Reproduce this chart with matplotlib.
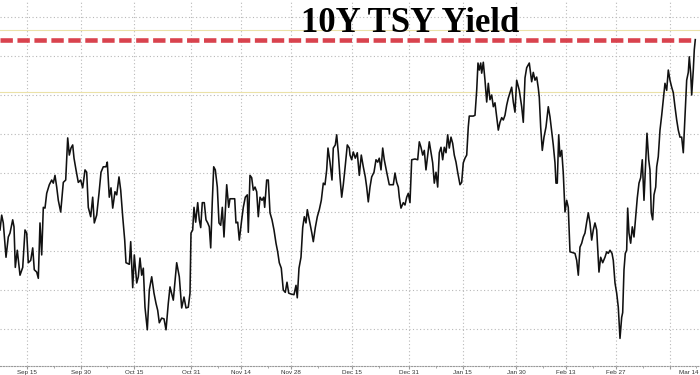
import matplotlib
matplotlib.use('Agg')
import matplotlib.pyplot as plt

# days since Sep 15 and yield (%)
days = [-7.56, -7.09, -6.64, -5.88, -5.24, -4.76, -4.01, -3.64, -3.28, -2.72, -1.96, -1.20, -0.56, -0.08,
        0.36, 1.04, 1.60, 2.04, 2.72, 3.17, 3.64, 4.12, 4.57, 5.04, 5.52, 6.25, 6.92, 7.37, 7.84, 8.32,
        8.77, 9.44, 10.17, 10.84, 11.40, 11.85, 12.32, 12.80, 13.17, 13.73, 14.37, 15.04, 15.60, 16.25,
        16.72, 17.17, 17.84, 18.40, 18.85, 19.52, 20.17, 20.73, 21.37, 22.13, 22.49, 23.05, 23.53, 24.01,
        24.65, 25.13, 25.77, 26.25, 26.81, 27.37, 27.73, 28.66, 29.05, 29.61, 30.06, 30.73, 31.18, 31.65,
        32.13, 32.58, 33.05, 33.70, 34.26, 34.93, 35.57, 36.13, 36.61, 37.06, 37.73, 38.38, 38.94, 39.58,
        40.06, 40.98, 41.93, 42.66, 43.33, 43.98, 44.54, 45.18, 45.66, 45.94, 46.41, 46.78, 47.25, 47.82,
        48.26, 48.66, 49.10, 49.66, 50.14, 50.62, 51.06, 51.46, 51.90, 52.30, 52.75, 53.31, 53.78, 54.26,
        54.71, 55.18, 55.94, 56.50, 56.86, 58.18, 58.54, 59.02, 59.47, 60.14, 60.59, 61.15, 61.71, 61.99,
        62.46, 62.94, 63.39, 63.87, 64.34, 64.79, 65.27, 65.83, 66.30, 66.58, 67.14, 67.59, 68.07, 68.63,
        69.19, 69.75, 70.22, 70.67, 71.23, 71.79, 72.35, 72.83, 73.31, 73.87, 74.79, 75.35, 75.71, 76.19,
        76.75, 77.23, 77.68, 78.15, 78.52, 79.08, 79.75, 80.20, 80.76, 81.32, 81.88, 82.44, 83.00, 83.47,
        83.95, 84.31, 84.87, 85.43, 85.80, 86.36, 86.75, 87.20, 87.68, 88.15, 88.60, 89.08, 89.72, 90.28,
        90.48, 90.95, 91.40, 91.96, 92.52, 93.08, 93.64, 94.20, 94.76, 95.15, 95.60, 96.08, 96.55, 97.20,
        97.76, 98.24, 98.68, 99.16, 99.64, 100.08, 100.76, 101.48, 102.61, 103.08, 103.56, 104.01, 104.29,
        104.76, 105.41, 105.88, 106.36, 106.81, 107.28, 107.76, 108.68, 109.44, 109.89, 110.36, 110.84,
        111.29, 111.76, 112.24, 112.69, 113.17, 113.64, 114.09, 114.57, 115.04, 115.49, 115.97, 116.44,
        116.89, 117.37, 117.84, 118.29, 118.77, 119.24, 119.69, 120.17, 120.64, 121.29, 121.76, 122.21,
        122.69, 123.17, 123.61, 123.89, 125.01, 125.49, 125.97, 126.33, 126.70, 127.09, 127.37, 127.82,
        128.29, 128.77, 129.22, 129.69, 130.17, 130.62, 131.09, 131.57, 132.02, 132.49, 132.97, 133.42,
        133.89, 134.37, 134.82, 135.29, 135.77, 136.22, 136.69, 137.17, 137.90, 138.57, 139.02, 139.50,
        139.97, 140.70, 141.37, 141.82, 142.30, 142.77, 143.22, 143.50, 143.89, 144.34, 144.82, 145.38,
        146.02, 146.50, 146.97, 147.42, 147.90, 148.18, 148.54, 148.94, 149.30, 149.78, 150.22, 150.70,
        151.18, 151.62, 152.10, 153.50, 153.98, 154.43, 154.90, 155.38, 155.83, 156.30, 156.78, 157.23,
        157.70, 158.18, 158.63, 159.10, 159.58, 160.22, 160.70, 161.26, 161.90, 162.38, 162.83, 163.31,
        163.87, 164.23, 164.71, 165.18, 165.63, 166.11, 166.58, 166.86, 167.23, 167.59, 167.98, 168.26,
        168.63, 169.10, 169.55, 170.03, 170.50, 170.95, 171.43, 171.90, 172.35, 172.83, 173.30, 173.67,
        174.15, 174.51, 174.87, 175.27, 175.63, 176.11, 176.39, 176.83, 177.31, 177.79, 178.24, 178.71,
        179.19, 179.64, 180.11, 180.59, 181.04, 181.51, 181.99, 182.44, 182.91, 183.39, 183.84, 184.31,
        184.79, 185.24, 185.52, 185.91, 186.19, 186.64, 186.92, 187.20]
yld = [2.477, 2.496, 2.486, 2.442, 2.468, 2.473, 2.490, 2.481, 2.429, 2.451, 2.419, 2.429, 2.477, 2.473,
       2.435, 2.438, 2.454, 2.426, 2.423, 2.415, 2.486, 2.445, 2.506, 2.505, 2.524, 2.535, 2.541, 2.537,
       2.547, 2.532, 2.515, 2.500, 2.538, 2.541, 2.595, 2.573, 2.582, 2.586, 2.569, 2.554, 2.538, 2.541,
       2.531, 2.554, 2.551, 2.506, 2.494, 2.519, 2.486, 2.496, 2.524, 2.551, 2.558, 2.558, 2.564, 2.519,
       2.531, 2.505, 2.526, 2.522, 2.545, 2.528, 2.494, 2.464, 2.435, 2.433, 2.462, 2.403, 2.445, 2.409,
       2.417, 2.441, 2.419, 2.428, 2.378, 2.349, 2.400, 2.417, 2.396, 2.383, 2.374, 2.358, 2.364, 2.363,
       2.349, 2.383, 2.404, 2.387, 2.435, 2.417, 2.377, 2.391, 2.377, 2.378, 2.396, 2.473, 2.477, 2.506,
       2.487, 2.512, 2.490, 2.480, 2.512, 2.512, 2.490, 2.486, 2.481, 2.454, 2.513, 2.558, 2.554, 2.532,
       2.486, 2.483, 2.506, 2.468, 2.535, 2.506, 2.517, 2.517, 2.486, 2.487, 2.464, 2.490, 2.506, 2.519,
       2.522, 2.474, 2.547, 2.544, 2.528, 2.532, 2.526, 2.494, 2.519, 2.515, 2.519, 2.506, 2.541, 2.541,
       2.499, 2.490, 2.477, 2.460, 2.449, 2.435, 2.428, 2.400, 2.397, 2.410, 2.396, 2.395, 2.394, 2.406,
       2.390, 2.428, 2.442, 2.480, 2.494, 2.486, 2.503, 2.490, 2.474, 2.462, 2.480, 2.494, 2.503, 2.515,
       2.537, 2.535, 2.554, 2.582, 2.564, 2.541, 2.582, 2.586, 2.599, 2.576, 2.544, 2.519, 2.535, 2.556,
       2.586, 2.582, 2.573, 2.567, 2.577, 2.569, 2.576, 2.547, 2.573, 2.558, 2.545, 2.532, 2.513, 2.532,
       2.545, 2.551, 2.567, 2.564, 2.569, 2.554, 2.582, 2.567, 2.551, 2.535, 2.535, 2.550, 2.538, 2.532,
       2.519, 2.505, 2.512, 2.509, 2.519, 2.524, 2.512, 2.567, 2.568, 2.567, 2.590, 2.583, 2.573, 2.579,
       2.554, 2.573, 2.590, 2.576, 2.563, 2.537, 2.551, 2.532, 2.576, 2.583, 2.567, 2.583, 2.576, 2.599,
       2.582, 2.596, 2.588, 2.573, 2.564, 2.551, 2.535, 2.538, 2.563, 2.569, 2.573, 2.609, 2.623, 2.623,
       2.624, 2.656, 2.691, 2.682, 2.691, 2.678, 2.692, 2.669, 2.641, 2.665, 2.644, 2.650, 2.635, 2.640,
       2.622, 2.605, 2.615, 2.621, 2.618, 2.624, 2.637, 2.646, 2.653, 2.660, 2.641, 2.628, 2.669, 2.656,
       2.635, 2.615, 2.672, 2.685, 2.691, 2.667, 2.679, 2.669, 2.673, 2.659, 2.647, 2.609, 2.579, 2.596,
       2.609, 2.635, 2.622, 2.603, 2.586, 2.563, 2.537, 2.537, 2.599, 2.571, 2.579, 2.550, 2.500, 2.515,
       2.506, 2.449, 2.447, 2.438, 2.419, 2.455, 2.460, 2.468, 2.473, 2.487, 2.499, 2.486, 2.464, 2.477,
       2.486, 2.477, 2.423, 2.442, 2.435, 2.442, 2.449, 2.447, 2.451, 2.447, 2.438, 2.409, 2.396, 2.378,
       2.338, 2.365, 2.371, 2.426, 2.447, 2.451, 2.505, 2.473, 2.460, 2.481, 2.468, 2.494, 2.518, 2.537,
       2.544, 2.567, 2.515, 2.563, 2.601, 2.567, 2.554, 2.499, 2.490, 2.522, 2.532, 2.558, 2.571, 2.605,
       2.624, 2.644, 2.665, 2.656, 2.682, 2.669, 2.660, 2.653, 2.635, 2.618, 2.605, 2.596, 2.596, 2.576,
       2.622, 2.669, 2.679, 2.699, 2.678, 2.650, 2.682, 2.708, 2.721]

tick_days = [0, 15, 30, 46, 60, 74, 91, 107, 122, 137, 151, 165, 180]
tick_labels = ['Sep 15', 'Sep 30', 'Oct 15', 'Oct 31', 'Nov 14', 'Nov 28', 'Dec 15',
               'Dec 31', 'Jan 15', 'Jan 30', 'Feb 13', 'Feb 27', '']
last_label = 'Mar 14'
yellow_levels = [2.733, 2.654]
grid_levels = [2.35, 2.40, 2.45, 2.50, 2.55, 2.60, 2.65, 2.70, 2.75]
title = '10Y TSY Yield'

fig = plt.figure(figsize=(7, 3.75), dpi=100)
# axis line sits a couple of px above the bottom so the date labels fit
ax = fig.add_axes([0, 9 / 375, 1, 366 / 375])
ax.set_xlim(-7.563, 188.52)
ax.set_ylim(2.3026, 2.7718)

# dotted grid
for g in grid_levels:
    ax.axhline(g, color='#b8b8b8', lw=0.8, ls=(0, (1, 2.2)), zorder=1)
for t in tick_days:
    ax.axvline(t, color='#b8b8b8', lw=0.8, ls=(0, (1, 2.2)), zorder=1)

# thin yellow reference lines
for lv in yellow_levels:
    ax.axhline(lv, color='#ebe1a8', lw=0.8, zorder=2)

# red dashed line at the latest level
ax.hlines(yld[-1], -7.563, days[-1], color='#d9434e', lw=3.3,
          linestyles=[(0, (2.7, 1.0))], zorder=3)

ax.plot(days, yld, color='#111111', lw=1.15, zorder=4)

for s in ['left', 'right', 'top']:
    ax.spines[s].set_visible(False)
ax.spines['bottom'].set_color('#999999')
ax.spines['bottom'].set_linestyle((0, (1, 1.5)))
ax.spines['bottom'].set_linewidth(0.8)

ax.set_yticks([])
ax.set_xticks(tick_days)
ax.set_xticklabels(tick_labels, fontsize=4.5, color='#333333', family='Liberation Sans')
ax.set_xticks([d + 7.5 for d in tick_days], minor=True)
ax.tick_params(axis='x', which='major', length=2, color='#999999', pad=0.8)
ax.tick_params(axis='x', which='minor', length=1.5, color='#999999')

# last date label pushed against the right edge
fig.text(0.998, 0.4 / 375, last_label, fontsize=4.5, color='#333333', family='Liberation Sans',
         ha='right', va='bottom')

fig.text(0.586, 1 - 32 / 375, title, fontsize=25, fontweight='bold', family='Liberation Serif',
         ha='center', va='baseline', color='black')

fig.savefig('out.png', dpi=100)
